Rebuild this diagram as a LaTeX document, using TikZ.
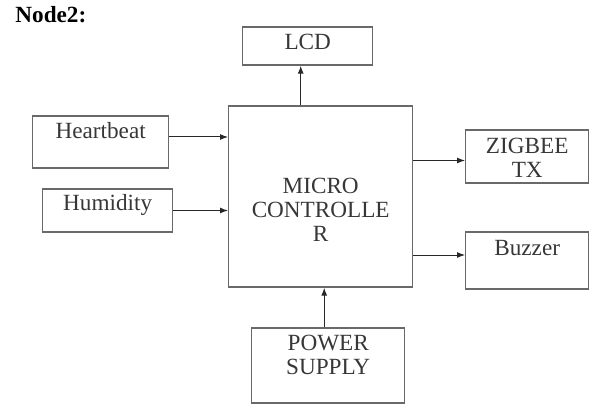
\documentclass[tikz,border=0pt]{standalone}
\usepackage{fontspec}
\setmainfont{Liberation Serif}
\usepackage{xcolor}
\usetikzlibrary{arrows.meta, positioning, calc}
\definecolor{boxGray}{RGB}{105,105,105}
\definecolor{arrGray}{RGB}{40,40,40}
\definecolor{txtGray}{RGB}{55,55,55}
\begin{document}
\begin{tikzpicture}[x=0.5pt, y=-0.5pt, font=\fontsize{11.6}{12}\selectfont, text=txtGray,
    BLK/.style={draw=boxGray, line width=0.7pt, anchor=base west, inner sep=0pt, align=center},
    ARR/.style={-{Latex[length=4pt,width=3pt]}, line width=0.5pt, arrGray}]
    \useasboundingbox (0,0) rectangle (597,406);
    \node[anchor=base west, inner sep=0pt, text=black] (title) at (15,23) {\textbf{Node2:}};
    % multi-line boxes sit on their last line
    \node[BLK, minimum width=92pt, text height=67.5pt, text depth=23pt] (mc) at (228,241) {MICRO\\CONTROLLE\\R};
    \node[BLK, minimum width=65pt, text height=11.5pt, text depth=7.5pt] (lcd) at (242,50) {LCD};
    \node[BLK, minimum width=68pt, text height=11.5pt, text depth=14.5pt] (hb) at (32,139) {Heartbeat};
    \node[BLK, minimum width=65pt, text height=10.5pt, text depth=11pt] (hum) at (42,210) {Humidity};
    \node[BLK, minimum width=61.5pt, text height=23.5pt, text depth=3pt] (zb) at (465,177) {ZIGBEE\\TX};
    \node[BLK, minimum width=61.5pt, text height=11.5pt, text depth=17pt] (bz) at (465,255) {Buzzer};
    \node[BLK, minimum width=76.5pt, text height=23pt, text depth=14.5pt] (ps) at (251,374) {POWER\\SUPPLY};
    % connectors
    \draw[ARR] ([xshift=-3.5pt]lcd.south |- mc.north) -- ([xshift=-3.5pt]lcd.south);
    \draw[ARR] ([yshift=1pt]hb.base east) -- ([yshift=1pt]hb.base east -| mc.west); \draw[ARR] (hum.east) -- (hum.east -| mc.west);
    \draw[ARR] ([yshift=-2pt]zb.west -| mc.east) -- ([yshift=-2pt]zb.west); \draw[ARR] (bz.base west -| mc.east) -- (bz.base west);
    \draw[ARR] ([xshift=-2pt]ps.north) -- ([xshift=-2pt]ps.north |- mc.south);
\end{tikzpicture}
\end{document}
